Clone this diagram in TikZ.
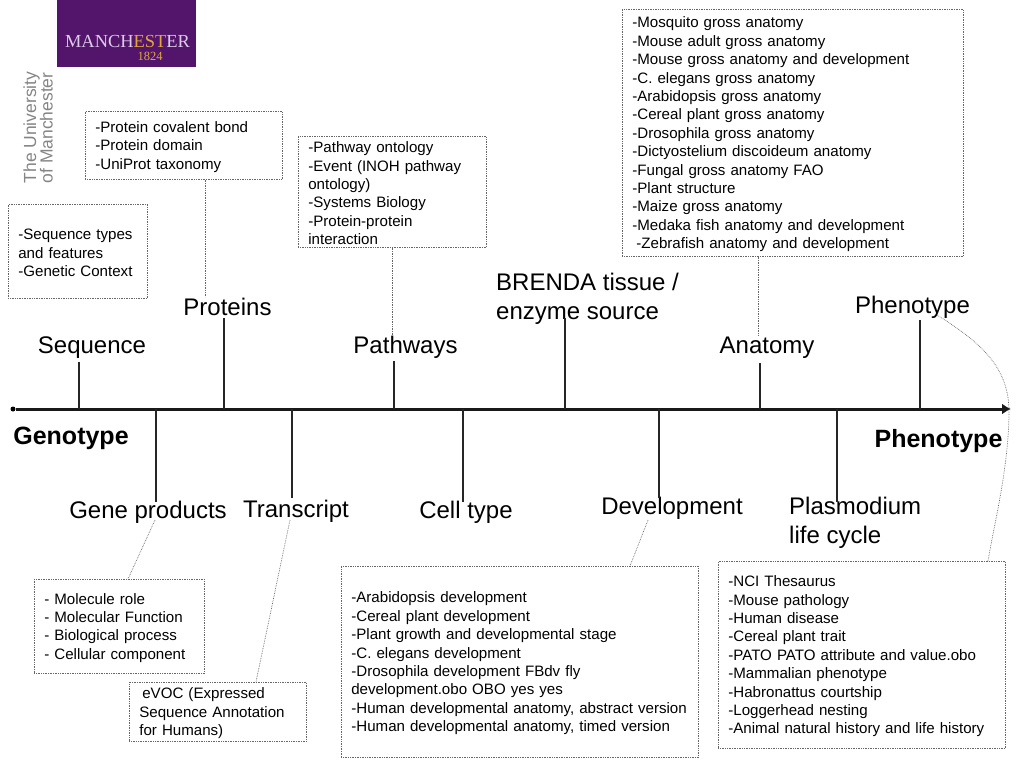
\documentclass[tikz,border=0pt]{standalone}
\usepackage{fontspec}
\setmainfont{Liberation Sans}
\newfontfamily\logofont{Liberation Serif}
\usetikzlibrary{arrows.meta, positioning}
\definecolor{logopurple}{HTML}{53156B}
\definecolor{logolilac}{HTML}{DCCBE6}
\definecolor{logogold}{HTML}{E2A73C}
\definecolor{logogrey}{HTML}{858587}

\tikzset{
	notebox/.style={draw=black!60, densely dotted, line width=0.7pt, anchor=north west,
		inner xsep=10pt, inner ysep=0pt, align=left,
		execute at begin node=\rule{0pt}{14pt},
		font=\fontsize{15.1}{18.4}\selectfont},
	termlabel/.style={font=\fontsize{24}{29}\selectfont, align=left, inner sep=0pt},
	endlabel/.style={font=\fontsize{25}{30}\selectfont\bfseries, inner sep=0pt},
	tick/.style={line width=2.5pt, black!85},
	leader/.style={draw=black!60, densely dotted, line width=0.7pt},
}

\begin{document}
\begin{tikzpicture}[x=1pt, y=-1pt]
	\useasboundingbox (0,0) rectangle (1023,767);

	% Logo
	\node (logoback) [fill=logopurple, anchor=north west, minimum width=139pt, minimum height=67pt, inner sep=0pt] at (57,0) {};
	\node (logoname) [inner sep=0pt, font=\logofont\fontsize{18.4}{20}\selectfont] at (127.5,42)
		{\textcolor{logolilac}{MANCH}\textcolor{logogold}{EST}\textcolor{logolilac}{ER}};
	\node (logoyear) [inner sep=0pt, text=logogold, font=\logofont\fontsize{12.5}{14}\selectfont] at (150,56) {1824};
	\node (logouni) [rotate=90, inner sep=0pt, align=left, text=logogrey, font=\fontsize{17.5}{16.5}\selectfont] at (38,127.5)
		{The University\\of Manchester};

	% Term labels
	\node (seqlab) [termlabel] at (92,348) {Sequence};
	\node (protlab) [termlabel] at (227.5,307) {Proteins};
	\node (pathlab) [termlabel] at (405.5,347) {Pathways};
	\node (brendalab) [termlabel, anchor=west] at (496,298.5) {BRENDA tissue /\\enzyme source};
	\node (anatlab) [termlabel] at (767,348) {Anatomy};
	\node (phenlab) [termlabel] at (912.5,307) {Phenotype};
	\node (genelab) [termlabel] at (148,512) {Gene products};
	\node (translab) [termlabel] at (296,511) {Transcript};
	\node (celllab) [termlabel] at (466,512) {Cell type};
	\node (devlab) [termlabel] at (672,508) {Development};
	\node (plaslab) [termlabel, anchor=west] at (789,522.5) {Plasmodium\\life cycle};
	\node (genotype) [endlabel] at (71,438) {Genotype};
	\node (phenotype) [endlabel] at (938.5,441) {Phenotype};

	% Boxes
	\node (seqbox) [notebox, text width=119pt, minimum height=94pt] at (8,204)
		{-Sequence types\\and features\\-Genetic Context};
	\node (protbox) [notebox, text width=177pt, minimum height=68pt] at (85,111)
		{-Protein covalent bond\\-Protein domain\\-UniProt taxonomy};
	\node (pathbox) [notebox, text width=168pt, minimum height=111pt] at (298,136)
		{-Pathway ontology\\-Event (INOH pathway\\ontology)\\-Systems Biology\\-Protein-protein\\interaction};
	\node (anatbox) [notebox, text width=321pt, minimum height=247pt] at (622,9)
		{-Mosquito gross anatomy\\-Mouse adult gross anatomy\\-Mouse gross anatomy and development\\-C. elegans gross anatomy\\-Arabidopsis gross anatomy\\-Cereal plant gross anatomy\\-Drosophila gross anatomy\\-Dictyostelium discoideum anatomy\\-Fungal gross anatomy FAO\\-Plant structure\\-Maize gross anatomy\\-Medaka fish anatomy and development\\\hspace*{4pt}-Zebrafish anatomy and development};
	\node (genebox) [notebox, text width=150pt, minimum height=94pt] at (34,579)
		{- Molecule role\\- Molecular Function\\- Biological process\\- Cellular component};
	\node (transbox) [notebox, text width=157pt, minimum height=59pt] at (129,682)
		{\hspace*{3pt}eVOC (Expressed\\Sequence Annotation\\for Humans)};
	\node (devbox) [notebox, text width=337pt, minimum height=191pt] at (341,566)
		{-Arabidopsis development\\-Cereal plant development\\-Plant growth and developmental stage\\-C. elegans development\\-Drosophila development FBdv fly\\development.obo OBO yes yes\\-Human developmental anatomy, abstract version\\-Human developmental anatomy, timed version};
	\node (phenbox) [notebox, text width=267pt, minimum height=187pt] at (718,561)
		{-NCI Thesaurus\\-Mouse pathology\\-Human disease\\-Cereal plant trait\\-PATO PATO attribute and value.obo\\-Mammalian phenotype\\-Habronattus courtship\\-Loggerhead nesting\\-Animal natural history and life history};

	% Axis
	\coordinate (axisstart) at (13,409);
	\coordinate (axisend) at (1011,409);
	\node (axisdot) [circle, fill=black, inner sep=0pt, minimum size=5pt] at (axisstart) {};
	\draw [-{Latex[length=9pt, width=11pt]}, line width=3pt, black!90] (axisdot) -- (axisend);

	% Tick tops and feet
	\coordinate (seqtop) at (79,362);
	\coordinate (prottop) at (224,318);
	\coordinate (pathtop) at (394,361);
	\coordinate (brendatop) at (565,318);
	\coordinate (anattop) at (760,363);
	\coordinate (phentop) at (920,320);
	\coordinate (genefoot) at (156,502);
	\coordinate (transfoot) at (292,498);
	\coordinate (cellfoot) at (463,502);
	\coordinate (devfoot) at (659,498);
	\coordinate (plasfoot) at (837,502);

	% Ticks
	\draw [tick] (seqtop) -- (seqtop |- axisstart);
	\draw [tick] (prottop) -- (prottop |- axisstart);
	\draw [tick] (pathtop) -- (pathtop |- axisstart);
	\draw [tick] (brendatop) -- (brendatop |- axisstart);
	\draw [tick] (anattop) -- (anattop |- axisstart);
	\draw [tick] (phentop) -- (phentop |- axisstart);
	\draw [tick] (genefoot) -- (genefoot |- axisstart);
	\draw [tick] (transfoot) -- (transfoot |- axisstart);
	\draw [tick] (cellfoot) -- (cellfoot |- axisstart);
	\draw [tick] (devfoot) -- (devfoot |- axisstart);
	\draw [tick] (plasfoot) -- (plasfoot |- axisstart);

	% Leaders to the boxes
	\coordinate (protleader) at (205,297);
	\coordinate (pathleader) at (392,335);
	\coordinate (anatleader) at (758,335);
	\coordinate (geneleader) at (155,520);
	\coordinate (transleader) at (290,520);
	\coordinate (devleader) at (648,520);
	\coordinate (phenleader) at (937,315);
	\coordinate (genedrop) at (128,579);
	\coordinate (transdrop) at (256,682);
	\coordinate (devdrop) at (630,566);
	\coordinate (phendrop) at (988,561);
	\draw [leader] (protbox.south -| protleader) -- (protleader);
	\draw [leader] (pathbox.south -| pathleader) -- (pathleader);
	\draw [leader] (anatbox.south -| anatleader) -- (anatleader);
	\draw [leader] (geneleader) -- (genedrop);
	\draw [leader] (transleader) -- (transdrop);
	\draw [leader] (devleader) -- (devdrop);
	\draw [leader] (phenleader) .. controls (985,345) and (1010,370) .. (1009,415)
		.. controls (1008,470) and (995,520) .. (phendrop);
\end{tikzpicture}
\end{document}
